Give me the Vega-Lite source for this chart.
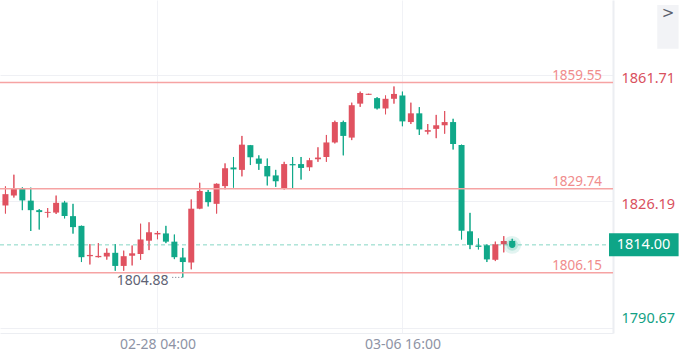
{
  "$schema": "https://vega.github.io/schema/vega-lite/v6.json",
  "width": 613,
  "height": 333,
  "autosize": {"type": "none"},
  "padding": {"left": 0, "top": 0, "right": 71, "bottom": 29},
  "background": "#ffffff",
  "config": {"view": {"stroke": null}, "font": "Noto Sans"},
  "datasets": {
    "candles": [
      {"i":0,"t":"02-23 12:00","o":1825.05,"h":1830.41,"l":1822.79,"c":1828.23},
      {"i":1,"t":"02-23 16:00","o":1827.83,"h":1833.68,"l":1827.28,"c":1829.87},
      {"i":2,"t":"02-23 20:00","o":1829.87,"h":1830.14,"l":1823.74,"c":1826.47},
      {"i":3,"t":"02-24 00:00","o":1826.41,"h":1830.06,"l":1817.89,"c":1823.74},
      {"i":4,"t":"02-24 04:00","o":1823.74,"h":1824.02,"l":1818.30,"c":1823.20},
      {"i":5,"t":"02-24 08:00","o":1822.98,"h":1824.34,"l":1821.70,"c":1823.25},
      {"i":6,"t":"02-24 12:00","o":1823.06,"h":1827.83,"l":1822.66,"c":1825.79},
      {"i":7,"t":"02-24 16:00","o":1825.92,"h":1826.33,"l":1821.43,"c":1822.11},
      {"i":8,"t":"02-24 20:00","o":1822.06,"h":1825.51,"l":1817.16,"c":1818.98},
      {"i":9,"t":"02-25 00:00","o":1819.33,"h":1819.39,"l":1809.18,"c":1810.54},
      {"i":10,"t":"02-25 04:00","o":1810.82,"h":1814.22,"l":1808.50,"c":1811.17},
      {"i":11,"t":"02-27 00:00","o":1810.54,"h":1814.49,"l":1810.46,"c":1810.90},
      {"i":12,"t":"02-27 04:00","o":1810.73,"h":1812.99,"l":1809.86,"c":1811.77},
      {"i":13,"t":"02-27 08:00","o":1811.77,"h":1814.22,"l":1806.73,"c":1808.09},
      {"i":14,"t":"02-27 12:00","o":1808.09,"h":1812.37,"l":1806.73,"c":1810.82},
      {"i":15,"t":"02-27 16:00","o":1810.95,"h":1813.81,"l":1808.23,"c":1811.63},
      {"i":16,"t":"02-27 20:00","o":1811.44,"h":1819.93,"l":1809.81,"c":1815.52},
      {"i":17,"t":"02-28 00:00","o":1815.17,"h":1820.34,"l":1812.53,"c":1817.54},
      {"i":18,"t":"02-28 04:00","o":1816.94,"h":1817.89,"l":1815.58,"c":1817.35},
      {"i":19,"t":"02-28 08:00","o":1817.21,"h":1819.33,"l":1814.49,"c":1814.90},
      {"i":20,"t":"02-28 12:00","o":1814.90,"h":1816.89,"l":1810.00,"c":1810.54},
      {"i":21,"t":"02-28 16:00","o":1810.46,"h":1813.13,"l":1804.88,"c":1809.18},
      {"i":22,"t":"02-28 20:00","o":1809.05,"h":1826.74,"l":1807.14,"c":1824.15},
      {"i":23,"t":"03-01 00:00","o":1824.15,"h":1831.42,"l":1824.02,"c":1829.13},
      {"i":24,"t":"03-01 04:00","o":1828.86,"h":1829.41,"l":1824.78,"c":1825.98},
      {"i":25,"t":"03-01 08:00","o":1825.51,"h":1831.23,"l":1822.79,"c":1831.15},
      {"i":26,"t":"03-01 12:00","o":1830.49,"h":1836.86,"l":1829.60,"c":1835.50},
      {"i":27,"t":"03-01 16:00","o":1835.72,"h":1838.66,"l":1830.06,"c":1835.18},
      {"i":28,"t":"03-01 20:00","o":1835.04,"h":1844.57,"l":1833.22,"c":1842.12},
      {"i":29,"t":"03-02 00:00","o":1841.98,"h":1842.03,"l":1836.40,"c":1838.58},
      {"i":30,"t":"03-02 04:00","o":1838.22,"h":1839.12,"l":1835.04,"c":1836.75},
      {"i":31,"t":"03-02 08:00","o":1836.13,"h":1838.22,"l":1830.68,"c":1833.22},
      {"i":32,"t":"03-02 12:00","o":1833.49,"h":1835.04,"l":1830.28,"c":1831.85},
      {"i":33,"t":"03-02 16:00","o":1829.73,"h":1837.30,"l":1829.51,"c":1836.67},
      {"i":34,"t":"03-02 20:00","o":1836.67,"h":1838.66,"l":1829.79,"c":1836.32},
      {"i":35,"t":"03-03 00:00","o":1836.67,"h":1838.66,"l":1832.32,"c":1835.58},
      {"i":36,"t":"03-03 04:00","o":1835.77,"h":1838.39,"l":1834.77,"c":1837.76},
      {"i":37,"t":"03-03 08:00","o":1838.03,"h":1841.38,"l":1837.30,"c":1838.50},
      {"i":38,"t":"03-03 12:00","o":1838.66,"h":1844.84,"l":1837.30,"c":1842.74},
      {"i":39,"t":"03-03 16:00","o":1842.74,"h":1848.84,"l":1842.47,"c":1848.46},
      {"i":40,"t":"03-03 20:00","o":1848.46,"h":1848.84,"l":1839.12,"c":1844.57},
      {"i":41,"t":"03-04 00:00","o":1844.10,"h":1853.90,"l":1843.40,"c":1853.19},
      {"i":42,"t":"03-04 04:00","o":1853.63,"h":1857.00,"l":1852.73,"c":1856.62},
      {"i":43,"t":"03-06 00:00","o":1856.10,"h":1856.40,"l":1856.10,"c":1856.40},
      {"i":44,"t":"03-06 04:00","o":1855.18,"h":1855.45,"l":1852.00,"c":1852.27},
      {"i":45,"t":"03-06 08:00","o":1852.27,"h":1855.92,"l":1850.64,"c":1854.99},
      {"i":46,"t":"03-06 12:00","o":1854.99,"h":1858.45,"l":1853.63,"c":1856.35},
      {"i":47,"t":"03-06 16:00","o":1855.92,"h":1857.00,"l":1847.29,"c":1848.65},
      {"i":48,"t":"03-06 20:00","o":1848.46,"h":1853.90,"l":1847.91,"c":1850.91},
      {"i":49,"t":"03-07 00:00","o":1850.91,"h":1852.65,"l":1844.84,"c":1846.39},
      {"i":50,"t":"03-07 04:00","o":1845.74,"h":1847.91,"l":1845.03,"c":1846.20},
      {"i":51,"t":"03-07 08:00","o":1846.55,"h":1850.47,"l":1843.94,"c":1847.56},
      {"i":52,"t":"03-07 12:00","o":1847.56,"h":1851.56,"l":1845.19,"c":1848.46},
      {"i":53,"t":"03-07 16:00","o":1848.46,"h":1849.38,"l":1840.76,"c":1842.31},
      {"i":54,"t":"03-07 20:00","o":1842.03,"h":1842.12,"l":1815.52,"c":1817.97},
      {"i":55,"t":"03-08 00:00","o":1817.81,"h":1822.98,"l":1812.80,"c":1814.00},
      {"i":56,"t":"03-08 04:00","o":1813.81,"h":1815.80,"l":1812.72,"c":1813.45},
      {"i":57,"t":"03-08 08:00","o":1813.89,"h":1814.16,"l":1809.18,"c":1809.92},
      {"i":58,"t":"03-08 12:00","o":1809.81,"h":1814.90,"l":1809.45,"c":1814.16},
      {"i":59,"t":"03-08 16:00","o":1814.16,"h":1816.45,"l":1811.90,"c":1815.09},
      {"i":60,"t":"03-08 20:00","o":1815.09,"h":1815.71,"l":1813.81,"c":1814.00}
    ],
    "levels": [{"price":1859.55},{"price":1829.74},{"price":1806.15}],
    "current": [{"price":1814.00,"label":"1814.00"}],
    "low": [{"price":1804.88,"label":"1804.88"}]
  },
  "layer": [
    {
      "data": {"name": "candles"},
      "mark": {"type": "rule", "strokeWidth": 1},
      "encoding": {
        "x": {"field": "i", "type": "quantitative", "scale": {"domain": [-0.052, 71.34], "nice": false, "zero": false},
          "axis": {"values": [18, 47], "labelExpr": "datum.value == 18 ? '02-28 04:00' : '03-06 16:00'", "title": null, "grid": true, "gridColor": "#F1F2F6", "ticks": false, "domainColor": "#ECEEF2", "domainWidth": 1, "labelColor": "#8E93A5", "labelFontSize": 14, "labelPadding": 4, "labelFont": "Noto Sans"}},
        "y": {"field": "l", "type": "quantitative", "scale": {"domain": [1790.67, 1881.31], "nice": false, "zero": false},
          "axis": {"orient": "right", "values": [1790.67, 1826.19, 1861.71], "format": ".2f", "title": null, "grid": true, "gridColor": "#EFF0F4", "ticks": false, "domainColor": "#ECEEF2", "domainWidth": 2, "labelPadding": 8, "labelFontSize": 14.5, "labelFont": "Noto Sans", "labelBaseline": "middle",
            "labelOffset": {"condition": {"test": "datum.value < 1800", "value": -10}, "value": 3.5},
            "labelColor": {"condition": {"test": "datum.value < 1814", "value": "#12A184"}, "value": "#D9515E"}}},
        "y2": {"field": "h"},
        "color": {"condition": {"test": "datum.c > datum.o", "value": "#E05260"}, "value": "#10A889"}
      }
    },
    {
      "data": {"name": "current"},
      "mark": {"type": "rule", "color": "#86d6c4", "strokeWidth": 1, "strokeDash": [4, 3]},
      "encoding": {
        "y": {"field": "price", "type": "quantitative"}
      }
    },
    {
      "data": {"name": "candles"},
      "mark": {"type": "rule", "strokeWidth": 1},
      "encoding": {
        "x": {"field": "i", "type": "quantitative"},
        "y": {"field": "l", "type": "quantitative"},
        "y2": {"field": "h"},
        "color": {"condition": {"test": "datum.c > datum.o", "value": "#E05260"}, "value": "#10A889"}
      }
    },
    {
      "data": {"name": "candles"},
      "mark": {"type": "bar", "size": 6},
      "encoding": {
        "x": {"field": "i", "type": "quantitative"},
        "y": {"field": "o", "type": "quantitative"},
        "y2": {"field": "c"},
        "color": {"condition": {"test": "datum.c > datum.o", "value": "#E05260"}, "value": "#10A889"}
      }
    },
    {
      "data": {"name": "levels"},
      "mark": {"type": "rule", "color": "#F6A3A3", "strokeWidth": 1.5},
      "encoding": {
        "y": {"field": "price", "type": "quantitative"}
      }
    },
    {
      "data": {"name": "levels"},
      "mark": {"type": "text", "align": "right", "baseline": "alphabetic", "dy": -3, "fontSize": 13.5, "color": "#F08C8C", "font": "Noto Sans"},
      "encoding": {
        "x": {"datum": 70.64, "type": "quantitative"},
        "y": {"field": "price", "type": "quantitative"},
        "text": {"field": "price", "type": "quantitative", "format": ".2f"}
      }
    },
    {
      "data": {"name": "low"},
      "mark": {"type": "rule", "color": "#6b6f80", "strokeWidth": 1, "strokeDash": [1, 2]},
      "encoding": {
        "x": {"datum": 19.75, "type": "quantitative"},
        "x2": {"datum": 21},
        "y": {"field": "price", "type": "quantitative"}
      }
    },
    {
      "data": {"name": "low"},
      "mark": {"type": "text", "align": "right", "baseline": "middle", "dy": 4, "fontSize": 14, "color": "#5E6273", "font": "Noto Sans"},
      "encoding": {
        "x": {"datum": 19.3, "type": "quantitative"},
        "y": {"field": "price", "type": "quantitative"},
        "text": {"field": "label"}
      }
    },
    {
      "data": {"name": "candles"},
      "transform": [{"filter": "datum.i == 60"}],
      "mark": {"type": "point", "filled": true, "color": "#10A889", "opacity": 0.12, "size": 320},
      "encoding": {
        "x": {"field": "i", "type": "quantitative"},
        "y": {"field": "c", "type": "quantitative"}
      }
    },
    {
      "data": {"name": "candles"},
      "transform": [{"filter": "datum.i == 60"}],
      "mark": {"type": "point", "filled": true, "color": "#10A889", "opacity": 0.2, "size": 140},
      "encoding": {
        "x": {"field": "i", "type": "quantitative"},
        "y": {"field": "c", "type": "quantitative"}
      }
    },
    {
      "data": {"name": "candles"},
      "transform": [{"filter": "datum.i == 60"}],
      "mark": {"type": "point", "filled": true, "color": "#10A889", "opacity": 1, "size": 40},
      "encoding": {
        "x": {"field": "i", "type": "quantitative"},
        "y": {"field": "c", "type": "quantitative"}
      }
    },
    {
      "data": {"name": "current"},
      "mark": {"type": "bar", "orient": "horizontal", "size": 23, "color": "#0EA587"},
      "encoding": {
        "x": {"datum": 71.46, "type": "quantitative"},
        "x2": {"datum": 79.7},
        "y": {"field": "price", "type": "quantitative"}
      }
    },
    {
      "data": {"name": "current"},
      "mark": {"type": "text", "align": "center", "baseline": "middle", "fontSize": 14.5, "color": "#ffffff", "font": "Noto Sans"},
      "encoding": {
        "x": {"datum": 75.55, "type": "quantitative"},
        "y": {"field": "price", "type": "quantitative"},
        "text": {"field": "label"}
      }
    },
    {
      "data": {"values": [{"label": ">"}]},
      "mark": {"type": "rect", "color": "#F2F3F6"},
      "encoding": {
        "x": {"datum": 77.17, "type": "quantitative"},
        "x2": {"datum": 79.7},
        "y": {"datum": 1881.31, "type": "quantitative"},
        "y2": {"datum": 1869.06}
      }
    },
    {
      "data": {"values": [{"label": ">"}]},
      "mark": {"type": "text", "align": "center", "baseline": "middle", "fontSize": 15, "color": "#5b5f6e", "font": "DejaVu Sans"},
      "encoding": {
        "x": {"datum": 78.45, "type": "quantitative"},
        "y": {"datum": 1879.0, "type": "quantitative"},
        "text": {"field": "label"}
      }
    }
  ]
}
